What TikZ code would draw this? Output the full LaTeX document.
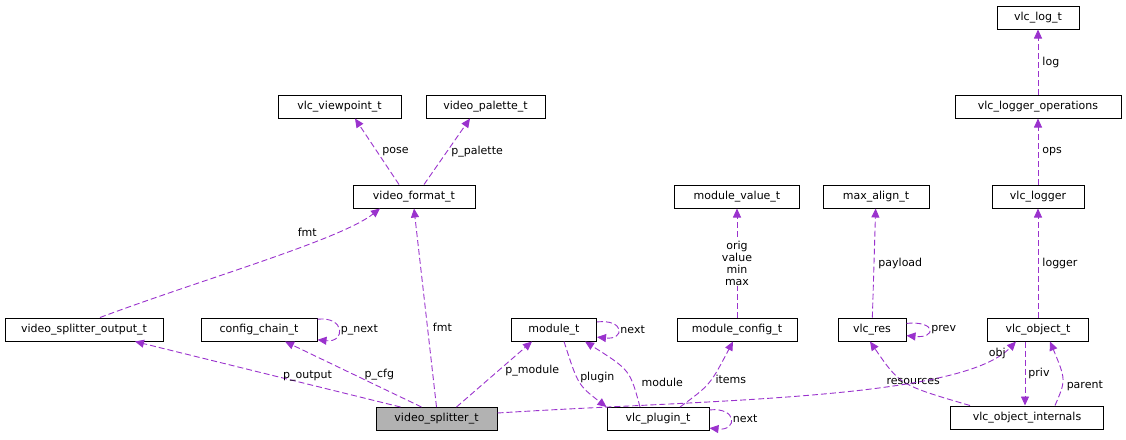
\documentclass[tikz,border=0pt]{standalone}
\usepackage{fontspec}
\setmainfont{DejaVu Sans}
\usetikzlibrary{arrows.meta}
\definecolor{ec}{HTML}{9A32CD}
\begin{document}
\begin{tikzpicture}[x=1pt,y=-1pt,
  box/.style={draw,line width=1pt,minimum height=23pt,inner xsep=3pt,font=\fontsize{11}{12}\selectfont},
  e/.style={draw=ec,line width=0.9pt,dash pattern=on 6pt off 3pt,-{Triangle[length=9pt,width=8pt,fill=ec]}},
  lb/.style={font=\fontsize{11}{12}\selectfont,inner sep=1pt,align=center}]
\useasboundingbox (0,0) rectangle (1126,439);
\node[box,minimum width=82] (log) at (1038,17.5) {vlc\_log\_t};
\node[box,minimum width=166] (ops) at (1038,106.5) {vlc\_logger\_operations};
\node[box,minimum width=92] (lgr) at (1038,196.5) {vlc\_logger};
\node[box,minimum width=101] (obj) at (1038,329.5) {vlc\_object\_t};
\node[box,minimum width=153] (int) at (1027,417.5) {vlc\_object\_internals};
\node[box,minimum width=68] (res) at (872,329.5) {vlc\_res};
\node[box,minimum width=106] (max) at (876,196.5) {max\_align\_t};
\node[box,minimum width=125] (mv) at (737,196.5) {module\_value\_t};
\node[box,minimum width=120] (mc) at (737,329.5) {module\_config\_t};
\node[box,minimum width=102] (pl) at (658,419) {vlc\_plugin\_t};
\node[box,minimum width=85] (mod) at (554,329.5) {module\_t};
\node[box,minimum width=121,fill=black!30] (vs) at (436.5,419) {video\_splitter\_t};
\node[box,minimum width=116] (cc) at (259,329.5) {config\_chain\_t};
\node[box,minimum width=158] (vso) at (84,329.5) {video\_splitter\_output\_t};
\node[box,minimum width=122] (vf) at (414,196.5) {video\_format\_t};
\node[box,minimum width=123] (vp) at (339.5,106.5) {vlc\_viewpoint\_t};
\node[box,minimum width=119] (pal) at (485.5,106.5) {video\_palette\_t};

\draw[e] (ops) -- node[lb,right=3pt]{log} (log);
\draw[e] (lgr) -- node[lb,right=3pt]{ops} (ops);
\draw[e] (obj) -- node[lb,right=3pt]{logger} (lgr);
\draw[e] (1025,341.5) -- node[lb,pos=0.5,right=2pt]{priv} (1025,405.5);
\draw[e] (int.north) ++(28,0) .. controls (1066,380) .. node[lb,pos=0.35,right=3pt]{parent} (1050,341.5);
\draw[e] (int.north west) ++(20,0) .. controls (900,385) .. node[lb,pos=0.4,above=1pt]{resources} (870,341.5);
\draw[e] (res.10) .. controls +(30,-3) and +(30,3) .. node[lb,right=1pt]{prev} (res.-10);
\draw[e] (res) -- node[lb,right=3pt]{payload} (max);
\draw[e] (mc) -- node[lb,pos=0.5,fill=white]{orig\\value\\min\\max} (mv);
\draw[e] (pl.north) ++(22,0) .. controls (710,385) .. node[lb,pos=0.55,right=3pt]{items} (733,341.5);
\draw[e] (pl.10) .. controls +(28,-3) and +(28,3) .. node[lb,right=1pt]{next} (pl.-10);
\draw[e] (mod.south) ++(10,0) .. controls (578,385) .. node[lb,pos=0.4,right=2pt]{plugin} (pl.north west);
\draw[e] (pl.north) ++(-18,0) .. controls (630,370) .. node[lb,pos=0.3,right=8pt]{module} (585,341.5);
\draw[e] (mod.10) .. controls +(28,-3) and +(28,3) .. node[lb,right=1pt]{next} (mod.-10);
\draw[e] (vs.north) ++(20,0) -- node[lb,pos=0.55,right=6pt]{p\_module} (532,341.5);
\draw[e] (vs.east) ++(0,-6) .. controls (700,400) and (960,400) .. node[lb,pos=0.88,above right=0pt]{obj} (1016,341.5);
\draw[e] (vs.north) ++(-15,0) -- node[lb,pos=0.5,right=10pt]{p\_cfg} (285,341.5);
\draw[e] (cc.10) .. controls +(28,-3) and +(28,3) .. node[lb,right=1pt]{p\_next} (cc.-10);
\draw[e] (vs.north west) ++(25,0) -- node[lb,pos=0.35,above=2pt]{p\_output} (135,341.5);
\draw[e] (vs.north) -- node[lb,pos=0.4,right=4pt]{fmt} (414,208.5);
\draw[e] (vso.north) ++(16,0) .. controls (200,280) and (340,240) .. node[lb,pos=0.65,above=6pt]{fmt} (380,208.5);
\draw[e] (vf.north) ++(-15,0) -- node[lb,right=4pt]{pose} (355,118.5);
\draw[e] (vf.north) ++(10,0) -- node[lb,right=3pt]{p\_palette} (470,118.5);
\end{tikzpicture}
\end{document}
